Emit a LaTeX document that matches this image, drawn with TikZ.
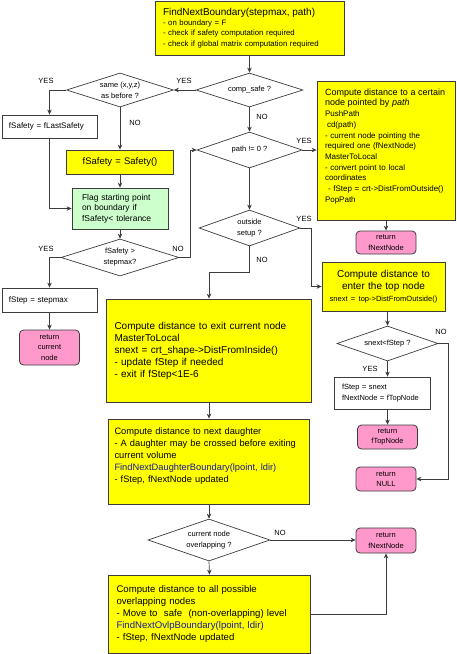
\documentclass[tikz,border=0pt]{standalone}
\usepackage{fontspec}
\setmainfont{Liberation Sans}
\usetikzlibrary{shapes.geometric,arrows.meta}
\definecolor{boxyellow}{HTML}{FFFF00}
\definecolor{flaggreen}{HTML}{CCFFCC}
\definecolor{retpink}{HTML}{FF99CC}
\definecolor{fnblue}{HTML}{1818A0}
\definecolor{edge}{HTML}{3C3C3C}

\begin{document}
\begin{tikzpicture}[x=1pt, y=-1pt, >={Stealth[length=5pt, width=4.5pt]},
        connector/.style={draw=edge, line width=0.7pt},
        procbox/.style={rectangle, draw=edge, line width=0.8pt, fill=boxyellow, align=left, inner xsep=8pt, inner ysep=0pt},
        whitebox/.style={procbox, fill=white},
        flagbox/.style={procbox, fill=flaggreen},
        retbox/.style={rectangle, rounded corners=4pt, draw=edge, line width=0.8pt, fill=retpink, align=center, inner sep=0pt, minimum width=60pt, font=\fontsize{7.5}{10.5}\selectfont},
        decision/.style={diamond, aspect=3, draw=edge, line width=0.7pt, fill=white, inner sep=0pt, align=center, font=\fontsize{7.5}{11}\selectfont},
        yesno/.style={inner sep=0pt, font=\fontsize{7.5}{9}\selectfont}]
        \useasboundingbox (0,0) rectangle (456,654);

        \node[procbox, text width=173pt, minimum height=54pt, font=\fontsize{7.8}{10.3}\selectfont] (start) at (249.5,28) {{\fontsize{10}{12}\selectfont FindNextBoundary(stepmax, path)}\\- on boundary = F\\- check if safety computation required\\- check if global matrix computation required};
        \node[decision, minimum width=107pt, minimum height=34pt] (compsafe) at (249.5,90) {comp\_safe ?};
        \node[decision, minimum width=107pt, minimum height=34pt] (same) at (120,90) {same (x,y,z)\\as before ?};
        \node[whitebox, text width=81pt, inner xsep=7pt, minimum height=23pt, font=\fontsize{8}{10}\selectfont] (lastsafe) at (49.5,126.5) {fSafety = fLastSafety};
        \node[procbox, align=center, text width=91pt, minimum height=24pt, font=\fontsize{9.5}{11}\selectfont] (safety) at (120,162) {fSafety = Safety()};
        \node[flagbox, text width=76pt, inner xsep=10pt, minimum height=41pt, font=\fontsize{8.5}{10.5}\selectfont] (flag) at (120,208.5) {Flag starting point\\on boundary if\\fSafety< tolerance};
        \node[decision, minimum width=118pt, minimum height=37pt] (stepmax) at (120,257.5) {fSafety >\\stepmax?};
        \node[whitebox, text width=81pt, inner xsep=7pt, minimum height=24pt, font=\fontsize{8}{10}\selectfont] (fstep) at (49.5,300) {fStep = stepmax};
        \node[retbox, minimum height=35pt] (retcurrent) at (49.5,347.5) {return\\current\\node};

        \node[decision, minimum width=105pt, minimum height=36pt] (path) at (249.5,150) {path != 0 ?};
        \node[procbox, text width=122pt, minimum height=139pt, font=\fontsize{8}{10.7}\selectfont] (push) at (386,150.5) {{\fontsize{9}{10.7}\selectfont Compute distance to a certain\\node pointed by \textit{path}}\\PushPath\\\hspace*{2pt}cd(path)\\- current node pointing the\\required one (fNextNode)\\MasterToLocal\\- convert point to local\\coordinates\\\hspace*{3pt}- fStep = crt->DistFromOutside()\\PopPath\rule[-10pt]{0pt}{0pt}};
        \node[retbox, minimum height=23pt] (retnext) at (386,242.5) {return\\fNextNode};
        \node[decision, minimum width=101pt, minimum height=36pt] (outside) at (249.5,228) {outside\\setup ?};
        \node[procbox, align=center, text width=113pt, inner xsep=5pt, minimum height=49pt, font=\fontsize{10}{12}\selectfont] (enter) at (383.5,286.5) {Compute distance to\\enter the top node\\{\fontsize{7.5}{12}\selectfont snext = top->DistFromOutside()}};
        \node[decision, minimum width=101pt, minimum height=35pt] (snext) at (387.5,343.5) {snext<fStep ?};
        \node[whitebox, text width=80pt, minimum height=32pt, font=\fontsize{7.5}{11.5}\selectfont] (snextbox) at (382,393) {fStep = snext\\fNextNode = fTopNode};
        \node[retbox, minimum height=24pt] (rettop) at (387.5,437) {return\\fTopNode};
        \node[retbox, minimum height=24pt] (retnull) at (386,479) {return\\NULL};

        \node[procbox, text width=189pt, minimum height=103pt, font=\fontsize{10}{12}\selectfont] (exit) at (209,350.5) {Compute distance to exit current node\\MasterToLocal\\snext = crt\_shape->DistFromInside()\\- update fStep if needed\\- exit if fStep<1E-6};
        \node[procbox, text width=189pt, inner xsep=6pt, minimum height=85pt, font=\fontsize{9.3}{12}\selectfont] (daughter) at (209,461.5) {Compute distance to next daughter\\- A daughter may be crossed before exiting\\current volume\\\textcolor{fnblue}{FindNextDaughterBoundary(lpoint, ldir)}\\- fStep, fNextNode updated\rule[-12pt]{0pt}{0pt}};
        \node[decision, minimum width=122pt, minimum height=42pt] (overlap) at (209,540) {current node\\overlapping ?};
        \node[retbox, minimum height=25pt] (retnext2) at (386,540.5) {return\\fNextNode};
        \node[procbox, text width=186pt, minimum height=78pt, font=\fontsize{9.6}{12}\selectfont] (ovlp) at (209.5,614) {Compute distance to all possible\\overlapping nodes\\- Move to\ \ safe\ \ (non-overlapping) level\\\textcolor{fnblue}{FindNextOvlpBoundary(lpoint, ldir)}\\- fStep, fNextNode updated};

        \draw[connector, ->] (start.south) -- (compsafe.north);
        \draw[connector, ->] (compsafe.west) -- (same.east);
        \draw[connector, ->] (same.west) -| (lastsafe.north);
        \draw[connector, ->] (same.south) -- (safety.north);
        \draw[connector, ->] (safety.south) -- (flag.north);
        \draw[connector, ->] (lastsafe.south) |- (flag.west);
        \draw[connector, ->] (flag.south) -- (stepmax.north);
        \draw[connector, ->] (stepmax.west) -| (fstep.north);
        \draw[connector, ->] (fstep.south) -- (retcurrent.north);
        \draw[connector, ->] (stepmax.east) -- ++(11,0) |- (path.west);

        \draw[connector, ->] (compsafe.south) -- (path.north);
        \draw[connector, ->] (path.east) -- (path.east -| push.west);
        \draw[connector, ->] (push.south) -- (retnext.north);
        \draw[connector, ->] (path.south) -- (outside.north);
        \draw[connector, ->] (outside.east) -- ++(11,0) |- (enter.west);
        \draw[connector, ->] (outside.south) -- ++(0,26) -| (exit.north);
        \draw[connector, ->] (enter.south -| snext.north) -- (snext.north);
        \draw[connector, ->] (snext.south) -- (snext.south |- snextbox.north);
        \draw[connector, ->] (rettop.north |- snextbox.south) -- (rettop.north);
        \draw[connector, ->] (snext.east) -- ++(10,0) |- (retnull.east);

        \draw[connector, ->] (exit.south) -- (daughter.north);
        \draw[connector, ->] (daughter.south) -- (overlap.north);
        \draw[connector, ->] (overlap.east) -- (overlap.east -| retnext2.west);
        \draw[connector, ->] (overlap.south) -- (ovlp.north);
        \draw[connector, ->] (ovlp.east) -| (retnext2.south);

        \node[yesno] (yes1) at (184,81) {YES};
        \node[yesno] (yes2) at (46,81) {YES};
        \node[yesno] (no1) at (135,123) {NO};
        \node[yesno] (no2) at (262,117) {NO};
        \node[yesno] (yes3) at (304,141) {YES};
        \node[yesno] (yes4) at (46,249) {YES};
        \node[yesno] (no3) at (178,249) {NO};
        \node[yesno] (yes5) at (304,219) {YES};
        \node[yesno] (no4) at (262,260) {NO};
        \node[yesno] (no5) at (441,332) {NO};
        \node[yesno] (yes6) at (370,369) {YES};
        \node[yesno] (no6) at (280,533) {NO};
\end{tikzpicture}
\end{document}
